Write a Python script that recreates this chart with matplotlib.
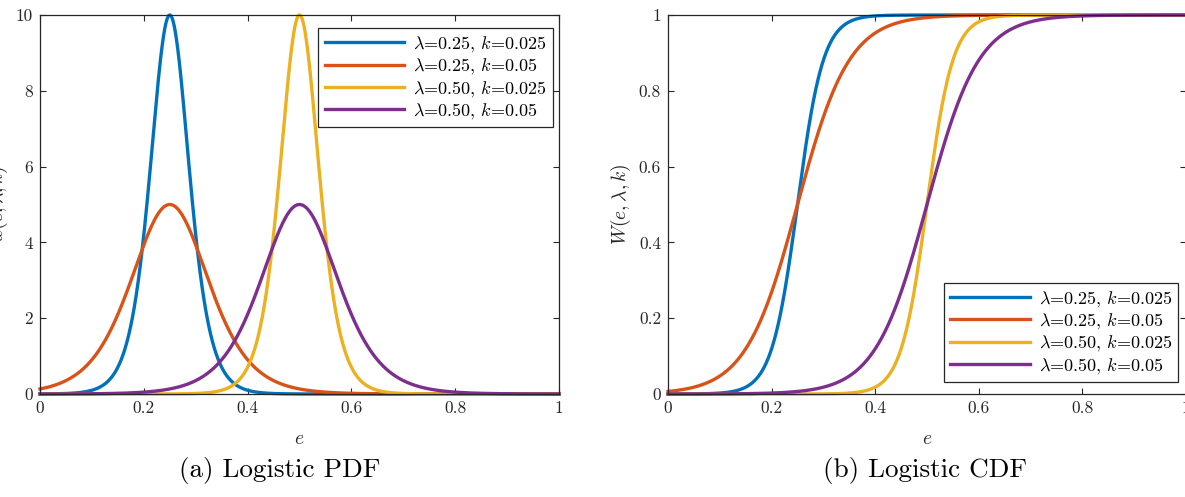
import numpy as np
import matplotlib
matplotlib.use("Agg")
import matplotlib.pyplot as plt

plt.rcParams['font.family'] = ['cmr10', 'DejaVu Serif']
plt.rcParams['mathtext.fontset'] = 'cm'
plt.rcParams['axes.formatter.use_mathtext'] = True

# Parameters read from the legends
lambdas = [0.25, 0.25, 0.50, 0.50]
ks = [0.025, 0.05, 0.025, 0.05]
labels = [r'$\lambda$=0.25, $k$=0.025', r'$\lambda$=0.25, $k$=0.05',
          r'$\lambda$=0.50, $k$=0.025', r'$\lambda$=0.50, $k$=0.05']
colors = ['#0072BD', '#D95319', '#EDB120', '#7E2F8E']

x_ticks = [0, 0.2, 0.4, 0.6, 0.8, 1]
x_ticklabels = ['0', '0.2', '0.4', '0.6', '0.8', '1']
pdf_yticks = [0, 2, 4, 6, 8, 10]
pdf_yticklabels = ['0', '2', '4', '6', '8', '10']
cdf_yticks = [0, 0.2, 0.4, 0.6, 0.8, 1]
cdf_yticklabels = ['0', '0.2', '0.4', '0.6', '0.8', '1']

e = np.linspace(0, 1, 2001)

fig = plt.figure(figsize=(11.85, 4.97), dpi=100)
W, H = 1185, 497
ax1 = fig.add_axes([40 / W, (H - 394) / H, 519 / W, 379 / H])
ax2 = fig.add_axes([668 / W, (H - 394) / H, 518 / W, 379 / H])

spine_col = '#262626'
for ax in (ax1, ax2):
    for s in ax.spines.values():
        s.set_color(spine_col)
        s.set_linewidth(0.9)
    ax.tick_params(direction='in', top=True, right=True, length=4,
                   width=0.8, color=spine_col, labelsize=12.5,
                   labelcolor='#262626', pad=5)

for lam, k, lab, c in zip(lambdas, ks, labels, colors):
    z = np.exp(-(e - lam) / k)
    pdf = z / (k * (1 + z) ** 2)
    cdf = 1 / (1 + z)
    ax1.plot(e, pdf, color=c, lw=2.4, label=lab, clip_on=False)
    ax2.plot(e, cdf, color=c, lw=2.4, label=lab, clip_on=False)

ax1.set_xlim(0, 1)
ax1.set_ylim(0, 10)
ax1.set_xticks(x_ticks, x_ticklabels)
ax1.set_yticks(pdf_yticks, pdf_yticklabels)
ax1.set_xlabel(r'$e$', fontsize=14, color='#262626', labelpad=10)
ax1.set_ylabel(r'$w(e,\lambda,k)$', fontsize=14, color='#262626', labelpad=4)

ax2.set_xlim(0, 1)
ax2.set_ylim(0, 1)
ax2.set_xticks(x_ticks, x_ticklabels)
ax2.set_yticks(cdf_yticks, cdf_yticklabels)
ax2.set_xlabel(r'$e$', fontsize=14, color='#262626', labelpad=10)
ax2.set_ylabel(r'$W(e,\lambda,k)$', fontsize=14, color='#262626', labelpad=4)

leg_kw = dict(fontsize=13, frameon=True, fancybox=False, edgecolor='#262626',
              framealpha=1, handlelength=4.4, handletextpad=0.5,
              labelspacing=0.13, borderpad=0.35, borderaxespad=0)
l1 = ax1.legend(loc='upper right', bbox_to_anchor=(0.988, 0.966), **leg_kw)
l2 = ax2.legend(loc='lower right', bbox_to_anchor=(0.985, 0.032), **leg_kw)
for l in (l1, l2):
    l.get_frame().set_linewidth(0.9)

fig.text(280 / W, (H - 470) / H,
         '(a) Logistic PDF', ha='center', va='center', fontsize=19.5)
fig.text(925 / W, (H - 470) / H,
         '(b) Logistic CDF', ha='center', va='center', fontsize=19.5)

fig.savefig('out.png', dpi=100)
